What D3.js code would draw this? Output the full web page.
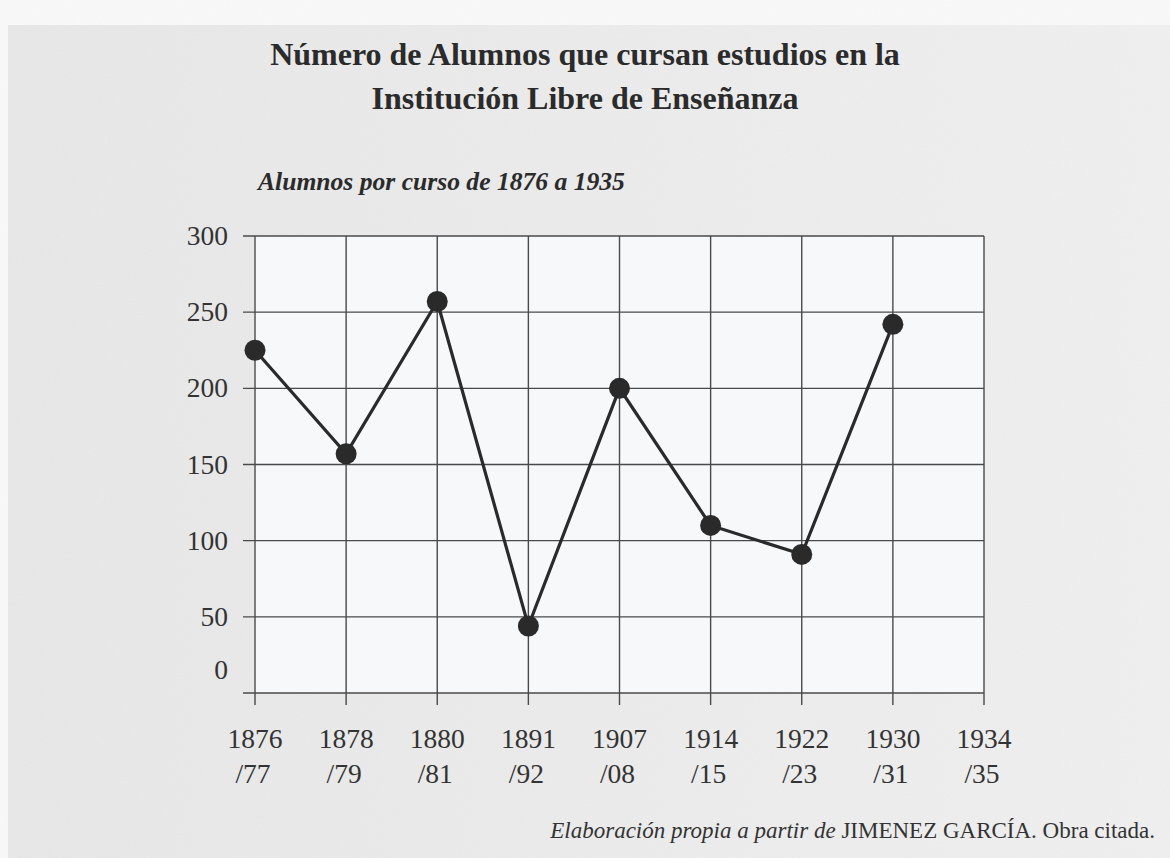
<meta charset="utf-8">
<html>
  <head>
    <style>
      body { margin: 0; background: #fafafa; }
      text { font-family: "Liberation Serif", "Times New Roman", serif; fill: #2b2b2b; }
      .title { font-weight: bold; font-size: 32px; }
      .subtitle { font-weight: bold; font-style: italic; font-size: 25.6px; }
      .tick text { font-size: 27.5px; fill: #333; }
      .grid line { stroke: #4a4a4a; stroke-width: 1.4; }
      .note { font-size: 23px; fill: #333; }
    </style>
  </head>
<script src="https://cdnjs.cloudflare.com/ajax/libs/d3/7.8.5/d3.min.js"></script>
<div id="chart"></div>
<script>

    // data
    var courseYears = ["1876", "1878", "1880", "1891", "1907", "1914", "1922", "1930", "1934"];
    var courseEnds  = ["/77", "/79", "/81", "/92", "/08", "/15", "/23", "/31", "/35"];
    var alumnos     = [225, 157, 257, 44, 200, 110, 91, 242, null];
    var yTicks      = [0, 50, 100, 150, 200, 250, 300];

    var W = 1170, H = 858;
    var margin = {top: 236, right: 186, bottom: 165, left: 255},
        width = W - margin.left - margin.right,
        height = H - margin.top - margin.bottom;

    var root = d3.select("#chart")
      .append("svg")
        .attr("width", W)
        .attr("height", H);

    // paper background
    var defs = root.append("defs");
    var grad = defs.append("linearGradient").attr("id", "paper");
    grad.append("stop").attr("offset", "0%").attr("stop-color", "#e8e8e8");
    grad.append("stop").attr("offset", "100%").attr("stop-color", "#f0f0f0");
    var f = defs.append("filter").attr("id", "grain");
    f.append("feTurbulence").attr("type", "fractalNoise").attr("baseFrequency", 0.9).attr("numOctaves", 1).attr("result", "n");
    f.append("feColorMatrix").attr("type", "saturate").attr("values", 0);
    f.append("feComponentTransfer").append("feFuncA").attr("type", "linear").attr("slope", 0.08);

    root.append("rect").attr("width", W).attr("height", H).attr("fill", "#fafafa");
    root.append("rect").attr("x", 8).attr("y", 25).attr("width", W - 8).attr("height", H - 25).attr("fill", "url(#paper)");
    root.append("rect").attr("x", 8).attr("y", 25).attr("width", W - 8).attr("height", H - 25).attr("filter", "url(#grain)");

    var svg = root.append("g")
        .attr("transform", "translate(" + margin.left + "," + margin.top + ")");

    var x = d3.scalePoint()
      .domain(courseYears)
      .range([0, width]);

    var y = d3.scaleLinear()
      .domain([0, 300])
      .range([height, 0]);

    // plot area
    svg.append("rect")
      .attr("width", width)
      .attr("height", height)
      .attr("fill", "#f7f8fa");

    // horizontal grid + left ticks
    svg.append("g")
      .attr("class", "grid")
      .selectAll("line")
      .data(yTicks)
      .enter().append("line")
        .attr("x1", -12).attr("x2", width)
        .attr("y1", function(d) { return y(d); })
        .attr("y2", function(d) { return y(d); });

    // vertical grid + bottom ticks
    svg.append("g")
      .attr("class", "grid")
      .selectAll("line")
      .data(courseYears)
      .enter().append("line")
        .attr("x1", function(d) { return x(d); })
        .attr("x2", function(d) { return x(d); })
        .attr("y1", 0).attr("y2", height + 12);

    // y labels
    svg.append("g")
      .attr("class", "tick")
      .selectAll("text")
      .data(yTicks)
      .enter().append("text")
        .attr("x", -27)
        .attr("y", function(d) { return y(d) + (d === 0 ? -14 : 9); })
        .style("text-anchor", "end")
        .text(function(d) { return d; });

    // x labels (two lines)
    var xl = svg.append("g")
      .attr("class", "tick")
      .selectAll("text")
      .data(courseYears)
      .enter().append("text")
        .style("text-anchor", "middle")
        .attr("transform", function(d) { return "translate(" + x(d) + "," + (height + 55) + ")"; });
    xl.append("tspan").attr("x", 0).attr("y", 0).text(function(d) { return d; });
    xl.append("tspan").attr("x", -2).attr("y", 35).text(function(d, i) { return courseEnds[i]; });

    // series
    var pts = courseYears.map(function(c, i) { return {c: c, v: alumnos[i]}; })
      .filter(function(d) { return d.v !== null; });

    var line = d3.line()
      .x(function(d) { return x(d.c); })
      .y(function(d) { return y(d.v); });

    svg.append("path")
      .datum(pts)
      .attr("d", line)
      .attr("fill", "none")
      .attr("stroke", "#2a2a2a")
      .attr("stroke-width", 3.2);

    svg.selectAll("circle")
      .data(pts)
      .enter().append("circle")
        .attr("cx", function(d) { return x(d.c); })
        .attr("cy", function(d) { return y(d.v); })
        .attr("r", 10.5)
        .attr("fill", "#2a2a2a");

    // titles
    root.append("text").attr("class", "title").attr("x", 585).attr("y", 65)
      .style("text-anchor", "middle").text("Número de Alumnos que cursan estudios en la");
    root.append("text").attr("class", "title").attr("x", 585).attr("y", 109)
      .style("text-anchor", "middle").text("Institución Libre de Enseñanza");
    root.append("text").attr("class", "subtitle").attr("x", 258).attr("y", 190)
      .text("Alumnos por curso de 1876 a 1935");

    // source note
    var note = root.append("text").attr("class", "note").attr("x", 1155).attr("y", 838)
      .style("text-anchor", "end");
    note.append("tspan").style("font-style", "italic").text("Elaboración propia a partir de ");
    note.append("tspan").text("JIMENEZ GARCÍA. Obra citada.");

</script>
</html>
